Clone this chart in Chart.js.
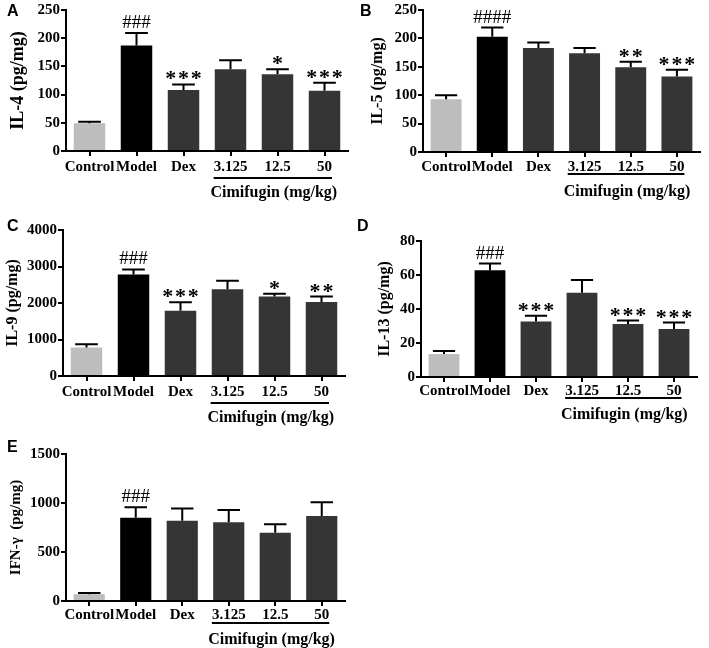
<!DOCTYPE html>
<html>
<head>
<meta charset="utf-8">
<script src="https://cdn.jsdelivr.net/npm/chart.js@4.4.0/dist/chart.umd.min.js"></script>
<style>
  body { margin: 0; background: #fff; width: 709px; height: 648px; position: relative; overflow: hidden; }
  canvas { position: absolute; }
</style>
</head>
<body>
<canvas id="chartA" width="352" height="210" style="left:0;top:0;width:352px;height:210px"></canvas>
<canvas id="chartB" width="359" height="210" style="left:350px;top:0;width:359px;height:210px"></canvas>
<canvas id="chartC" width="352" height="215" style="left:0;top:215px;width:352px;height:215px"></canvas>
<canvas id="chartD" width="359" height="215" style="left:350px;top:215px;width:359px;height:215px"></canvas>
<canvas id="chartE" width="352" height="218" style="left:0;top:430px;width:352px;height:218px"></canvas>
<script>
const groups = ['Control', 'Model', 'Dex', '3.125', '12.5', '50'];
const doseLabel = 'Cimifugin (mg/kg)';

const il4Means = [49, 187, 108, 145, 136, 107];
const il4Errors = [3, 22, 10, 16, 9, 14];
const il4Marks = ['', '###', '***', '', '*', '***'];

const il5Means = [93, 203, 183, 174, 149, 133];
const il5Errors = [7, 16, 10, 9, 10, 12];
const il5Marks = ['', '####', '', '', '**', '***'];

const il9Means = [780, 2780, 1790, 2380, 2180, 2030];
const il9Errors = [90, 140, 230, 230, 75, 145];
const il9Marks = ['', '###', '***', '', '*', '**'];

const il13Means = [13.5, 62.8, 32.6, 49.5, 31.2, 28.3];
const il13Errors = [1.8, 3.9, 3.4, 7.5, 2, 3.7];
const il13Marks = ['', '###', '***', '', '***', '***'];

const ifnMeans = [69, 850, 820, 803, 697, 868];
const ifnErrors = [13, 107, 123, 126, 86, 140];
const ifnMarks = ['', '###', '', '', '', ''];

const barColors = ['#bdbdbd', '#000000', '#353535', '#353535', '#353535', '#353535'];
const SERIF = "'Liberation Serif', 'Times New Roman', serif";

// error bars (upper only), significance marks, dose underline, panel letter
const extrasPlugin = {
    id: 'extras',
    afterDatasetsDraw(chart) {
        const o = chart.options.plugins.extras;
        const ctx = chart.ctx;
        const meta = chart.getDatasetMeta(0);
        const yScale = chart.scales.y;
        const xScale = chart.scales.x;
        const area = chart.chartArea;
        ctx.save();
        ctx.strokeStyle = '#000';
        ctx.lineWidth = 2;
        meta.data.forEach((bar, i) => {
            const top = yScale.getPixelForValue(o.means[i] + o.errors[i]);
            const base = yScale.getPixelForValue(o.means[i]);
            const half = bar.width * 0.36;
            ctx.beginPath();
            ctx.moveTo(bar.x, base);
            ctx.lineTo(bar.x, top);
            ctx.moveTo(bar.x - half, top);
            ctx.lineTo(bar.x + half, top);
            ctx.stroke();

            const mark = o.marks[i];
            if (mark) {
                ctx.fillStyle = '#000';
                ctx.textAlign = 'center';
                ctx.textBaseline = 'alphabetic';
                if (mark[0] === '#') {
                    ctx.font = `19px ${SERIF}`;
                    ctx.fillText(mark, bar.x, top - 5);
                } else {
                    ctx.font = `bold 22px ${SERIF}`;
                    ctx.fillText(mark.split('').join('\u200a'), bar.x, top + 1);
                }
            }
        });

        // underline + dose label
        ctx.font = `bold 15px ${SERIF}`;
        const x1 = xScale.getPixelForValue(3) - ctx.measureText(groups[3]).width / 2;
        const x2 = xScale.getPixelForValue(5) + ctx.measureText(groups[5]).width / 2;
        ctx.beginPath();
        ctx.moveTo(x1, area.bottom + o.lineOffset);
        ctx.lineTo(x2, area.bottom + o.lineOffset);
        ctx.stroke();
        ctx.font = `bold 16px ${SERIF}`;
        ctx.textAlign = 'center';
        ctx.textBaseline = 'middle';
        ctx.fillStyle = '#000';
        ctx.fillText(doseLabel, (x1 + x2) / 2 + 1, area.bottom + o.doseOffset);

        ctx.font = "bold 16px 'Liberation Sans', Arial, sans-serif";
        ctx.textAlign = 'left';
        ctx.textBaseline = 'alphabetic';
        ctx.fillText(o.letter, o.letterX, o.letterY);
        ctx.restore();
    }
};

function makePanel(id, p) {
    const ctx = document.getElementById(id).getContext('2d');
    new Chart(ctx, {
        type: 'bar',
        data: {
            labels: groups,
            datasets: [{
                data: p.means,
                backgroundColor: barColors,
                borderWidth: 0,
                barPercentage: 0.67,
                categoryPercentage: 1
            }]
        },
        options: {
            responsive: false,
            animation: false,
            layout: { padding: { left: 0, right: p.padRight, top: p.padTop, bottom: 0 } },
            plugins: {
                legend: { display: false },
                tooltip: { enabled: false },
                extras: {
                    means: p.means, errors: p.errors, marks: p.marks,
                    letter: p.letter, letterX: p.letterX, letterY: p.letterY,
                    lineOffset: p.lineOffset, doseOffset: p.doseOffset
                }
            },
            scales: {
                x: {
                    afterFit: s => { s.height = p.xHeight; },
                    grid: { offset: false, drawOnChartArea: false, tickLength: 5, color: '#000', lineWidth: 2 },
                    border: { color: '#000', width: 2 },
                    ticks: {
                        autoSkip: false, maxRotation: 0, minRotation: 0, padding: p.labelPad,
                        color: '#000', font: { family: SERIF, size: 15, weight: 'bold' }
                    }
                },
                y: {
                    min: 0, max: p.max,
                    afterFit: s => { s.width = p.yWidth; },
                    grid: { drawOnChartArea: false, tickLength: 5, color: '#000', lineWidth: 2 },
                    border: { color: '#000', width: 2 },
                    ticks: {
                        stepSize: p.step, padding: 1, color: '#000',
                        callback: v => String(v),
                        font: { family: SERIF, size: 15, weight: 'bold' }
                    },
                    title: {
                        display: true, text: p.title, color: '#000',
                        padding: { top: p.titlePad, bottom: 0 },
                        font: { family: SERIF, size: p.titleSize, weight: 'bold' }
                    }
                }
            }
        },
        plugins: [extrasPlugin]
    });
}

makePanel('chartA', {
    means: il4Means, errors: il4Errors, marks: il4Marks, max: 250, step: 50,
    title: 'IL-4 (pg/mg)', titleSize: 18, titlePad: 8, letter: 'A', letterX: 7, letterY: 16,
    yWidth: 66, padRight: 4, padTop: 5, xHeight: 59, labelPad: 2, lineOffset: 27, doseOffset: 42
});
makePanel('chartB', {
    means: il5Means, errors: il5Errors, marks: il5Marks, max: 250, step: 50,
    title: 'IL-5 (pg/mg)', titleSize: 16, titlePad: 18, letter: 'B', letterX: 10, letterY: 16,
    yWidth: 73, padRight: 9, padTop: 5, xHeight: 58, labelPad: 1, lineOffset: 22, doseOffset: 40
});
makePanel('chartC', {
    means: il9Means, errors: il9Errors, marks: il9Marks, max: 4000, step: 1000,
    title: 'IL-9 (pg/mg)', titleSize: 16, titlePad: 3, letter: 'C', letterX: 7, letterY: 16,
    yWidth: 63, padRight: 7, padTop: 15, xHeight: 54, labelPad: 2, lineOffset: 27, doseOffset: 42
});
makePanel('chartD', {
    means: il13Means, errors: il13Errors, marks: il13Marks, max: 80, step: 20,
    title: 'IL-13 (pg/mg)', titleSize: 16, titlePad: 25, letter: 'D', letterX: 7, letterY: 16,
    yWidth: 71, padRight: 12, padTop: 26, xHeight: 53, labelPad: 0, lineOffset: 21, doseOffset: 38
});
makePanel('chartE', {
    means: ifnMeans, errors: ifnErrors, marks: ifnMarks, max: 1500, step: 500,
    title: 'IFN-\u03b3  (pg/mg)', titleSize: 15, titlePad: 7, letter: 'E', letterX: 7, letterY: 22,
    yWidth: 66, padRight: 7, padTop: 24, xHeight: 47, labelPad: 0, lineOffset: 22, doseOffset: 39
});
</script>
</body>
</html>
